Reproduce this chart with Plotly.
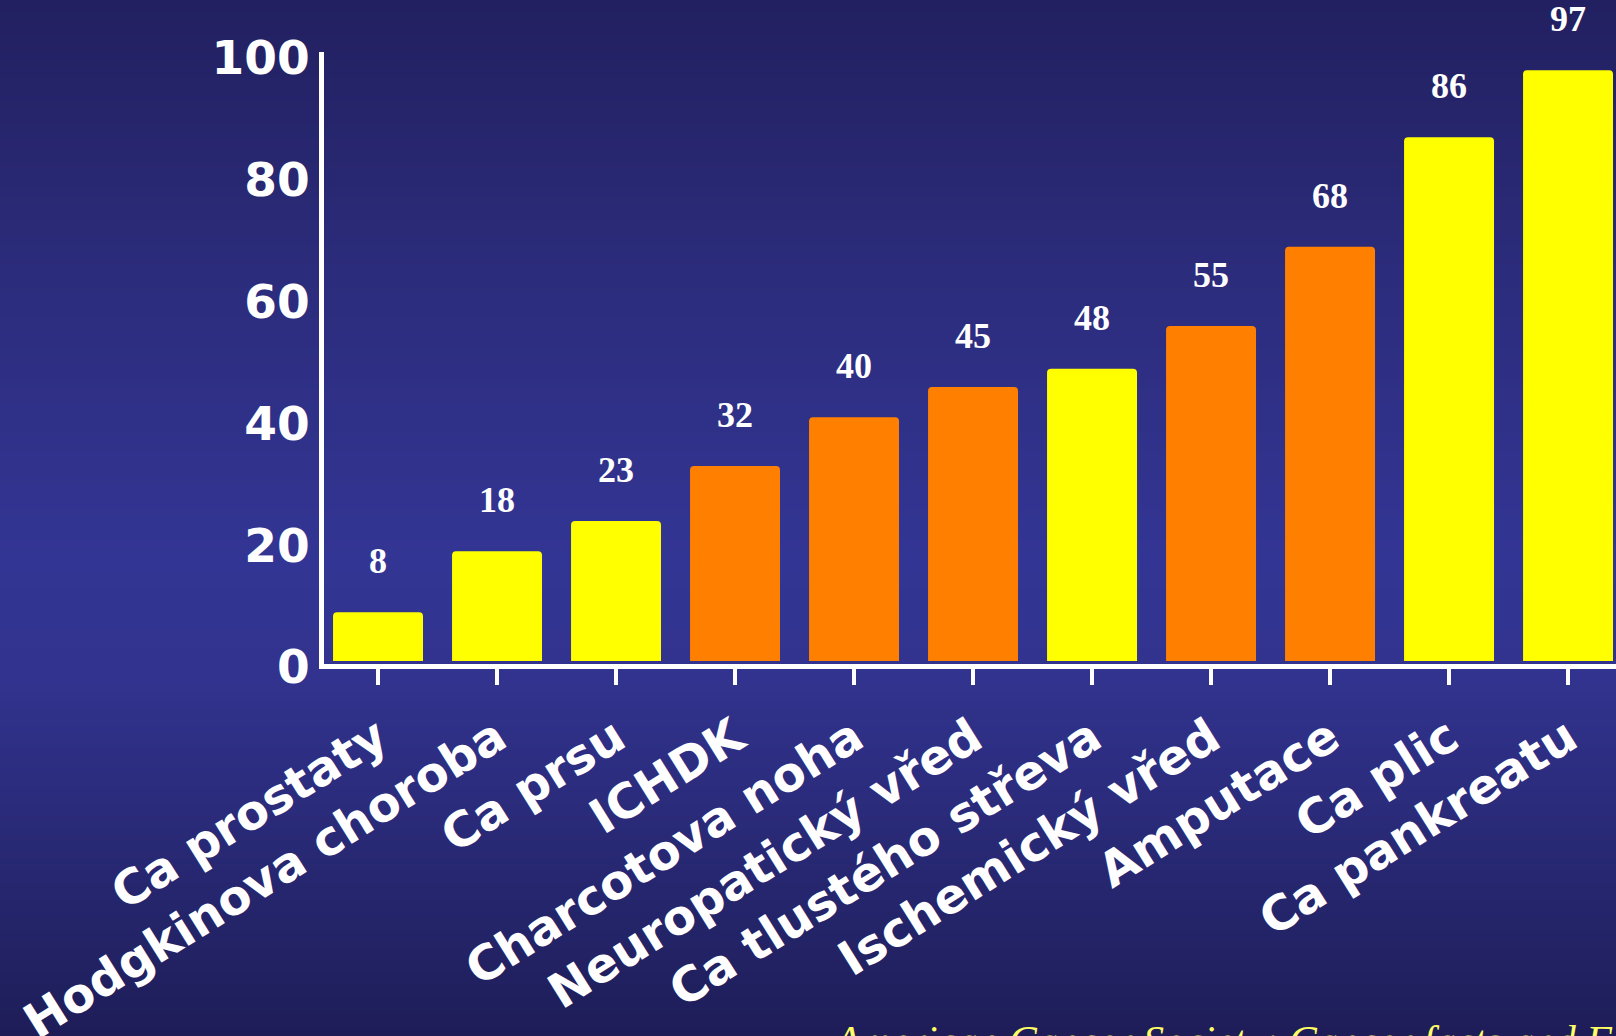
import plotly.graph_objects as go

categories = ["Ca prostaty", "Hodgkinova choroba", "Ca prsu", "ICHDK", "Charcotova noha",
              "Neuropatický vřed", "Ca tlustého střeva", "Ischemický vřed", "Amputace",
              "Ca plic", "Ca pankreatu"]
values = [8, 18, 23, 32, 40, 45, 48, 55, 68, 86, 97]
bar_colors = ["#FFFF00", "#FFFF00", "#FFFF00", "#FF8000", "#FF8000", "#FF8000",
              "#FFFF00", "#FF8000", "#FF8000", "#FFFF00", "#FFFF00"]
y_ticks = [0, 20, 40, 60, 80, 100]
footnote = "American Cancer Society; Cancer facts and Figures"

W, H = 1616, 1036
L, R, T, B = 324, 0, 52, 372
PW, PH = W - L - R, H - T - B


def px2paper_x(px):
    return (px - L) / PW


def px2paper_y(py):
    return (H - B - py) / PH


# background vertical gradient
stops = [(0, (34, 32, 96)), (300, (44, 45, 126)), (560, (51, 53, 148)),
         (680, (49, 51, 142)), (1036, (30, 29, 88))]


def grad(py):
    for (a, ca), (b, cb) in zip(stops[:-1], stops[1:]):
        if a <= py <= b:
            t = (py - a) / (b - a)
            return tuple(round(ca[i] + (cb[i] - ca[i]) * t) for i in range(3))
    return stops[-1][1]


shapes = []
step = 6
for py in range(0, H, step):
    c = grad(py + step / 2)
    shapes.append(dict(type="rect", xref="paper", yref="paper",
                       x0=px2paper_x(-2), x1=px2paper_x(W + 2),
                       y0=px2paper_y(py + step + 1), y1=px2paper_y(py),
                       fillcolor=f"rgb{c}", line=dict(width=0), layer="below"))

fig = go.Figure()
fig.add_trace(go.Bar(x=categories, y=values, marker=dict(color=bar_colors, line=dict(width=0),
                                                         cornerradius=4),
                     hoverinfo="skip"))

annotations = []
for c, v in zip(categories, values):
    annotations.append(dict(x=c, y=v, text=f"<b>{v}</b>", showarrow=False, yshift=51,
                            yanchor="middle",
                            font=dict(family="Liberation Serif", size=36, color="white")))
annotations.append(dict(xref="paper", yref="paper", x=px2paper_x(830), y=px2paper_y(1041),
                        xanchor="left", yanchor="middle", text=footnote, showarrow=False,
                        font=dict(family="Liberation Serif", size=42, color="#FFFF66",
                                  style="italic")))

fig.update_layout(
    template="none",
    width=W, height=H,
    margin=dict(l=L, r=R, t=T, b=B, pad=0, autoexpand=False),
    paper_bgcolor="rgb(30,29,88)",
    plot_bgcolor="rgba(0,0,0,0)",
    shapes=shapes,
    annotations=annotations,
    bargap=0.244,
    showlegend=False,
    xaxis=dict(type="category", range=[-0.454, 10.403], showgrid=False, zeroline=False,
               automargin=False,
               showline=True, linecolor="white", linewidth=5,
               ticks="outside", ticklen=16, tickwidth=4, tickcolor="white",
               tickangle=-32, ticklabelstandoff=6,
               tickfont=dict(family="DejaVu Sans", size=48, color="white", weight="bold"),
               fixedrange=True),
    yaxis=dict(range=[-0.5, 100], tickvals=y_ticks, showgrid=False, zeroline=False,
               automargin=False,
               showline=True, linecolor="white", linewidth=5, ticks="",
               ticklabelshift=6, ticklabelstandoff=0,
               tickfont=dict(family="DejaVu Sans", size=47, color="white", weight="bold"),
               fixedrange=True),
)

fig.write_html("out.html", config={"displayModeBar": False},
               post_script="document.body.style.margin='0';document.body.style.overflow='hidden';")
